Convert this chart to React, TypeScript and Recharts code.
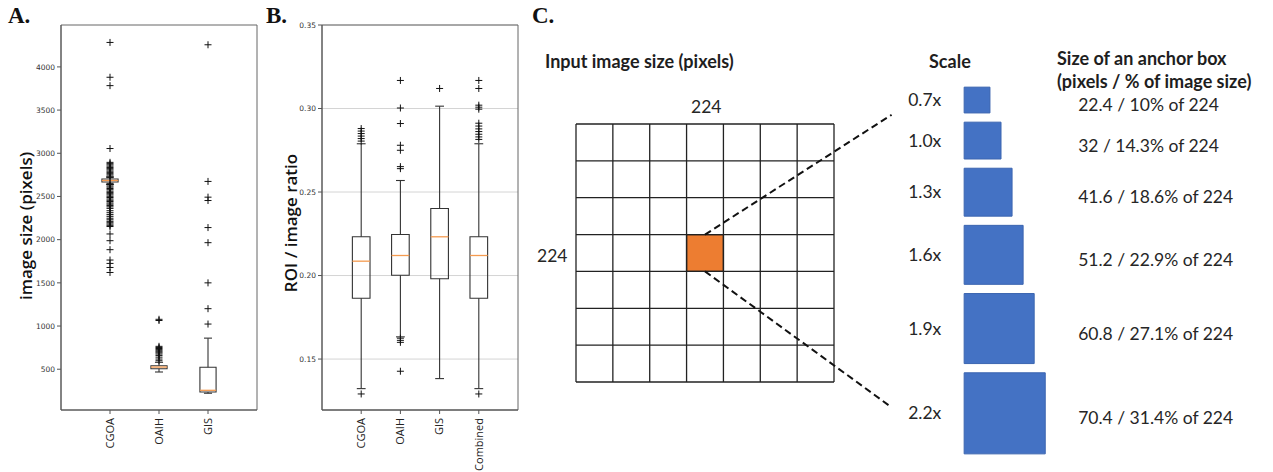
// Figure: A/B boxplots of image size and ROI ratio, C anchor-box diagram
import * as React from 'react';
import {
  ScatterChart,
  Scatter,
  XAxis,
  YAxis,
  ReferenceArea,
  ReferenceLine,
  CartesianGrid,
} from 'recharts';

// ---- panel A : image size (pixels)
const catsA = ['CGOA', 'OAIH', 'GIS'];
const q1A = [2668, 505, 236];
const medianA = [2685, 525, 256];
const q3A = [2702, 540, 523];
const whiskerLoA = [2640, 468, 222];
const whiskerHiA = [2725, 580, 860];
const outliersCGOA = [
  4283, 3880, 3783, 3055, 2895, 2880, 2866, 2851, 2836, 2822, 2808, 2793, 2779,
  2764, 2750, 2735, 2718, 2652, 2638, 2622, 2608, 2592, 2578, 2561, 2547, 2532,
  2518, 2502, 2488, 2471, 2456, 2442, 2425, 2411, 2396, 2380, 2362, 2335, 2312,
  2290, 2270, 2248, 2230, 2212, 2196, 2181, 2166, 2152, 2066, 1988, 1884, 1764,
  1725, 1678, 1620,
];
const outliersOAIH = [1078, 1064, 765, 752, 740, 727, 714, 702, 690, 676, 660, 640, 618, 598];
const outliersGIS = [4256, 2674, 2492, 2453, 2140, 1965, 1500, 1201, 1023];
const ticksA = [500, 1000, 1500, 2000, 2500, 3000, 3500, 4000];

// ---- panel B : ROI / image ratio
const catsB = ['CGOA', 'OAIH', 'GIS', 'Combined'];
const q1B = [0.1864, 0.2002, 0.1981, 0.1864];
const medianB = [0.2086, 0.212, 0.2232, 0.212];
const q3B = [0.2232, 0.2246, 0.2401, 0.2232];
const whiskerLoB = [0.1323, 0.1633, 0.1383, 0.1323];
const whiskerHiB = [0.2789, 0.2569, 0.3014, 0.2789];
const outliersB = [
  [0.288, 0.2865, 0.285, 0.2835, 0.282, 0.2805, 0.1291],
  [0.3168, 0.3003, 0.291, 0.278, 0.275, 0.2652, 0.264, 0.1625, 0.1612, 0.16, 0.1427],
  [0.312],
  [0.3168, 0.312, 0.302, 0.3008, 0.2996, 0.2912, 0.2895, 0.2878, 0.2862, 0.2846, 0.283, 0.2815, 0.1291],
];
const ticksB = [0.15, 0.2, 0.25, 0.3, 0.35];

// ---- panel C : anchor boxes
const gridTicks = [0, 32, 64, 96, 128, 160, 192, 224];
const inputSize = 224;
const anchorScales = ['0.7x', '1.0x', '1.3x', '1.6x', '1.9x', '2.2x'];
const anchorPixels = [22.4, 32, 41.6, 51.2, 60.8, 70.4];
const anchorTexts = [
  '22.4 / 10% of 224',
  '32 / 14.3% of 224',
  '41.6 / 18.6% of 224',
  '51.2 / 22.9% of 224',
  '60.8 / 27.1% of 224',
  '70.4 / 31.4% of 224',
];

const LINE = '#333';
const MEDIAN = '#f59b50';
const TICK_FONT = { fontSize: 7.5, fill: '#333', fontFamily: 'DejaVu Sans' };

function Plus(props: any) {
  const { cx, cy } = props;
  if (cx == null || cy == null) return null;
  return (
    <path
      d={`M${cx - 3.5},${cy}H${cx + 3.5}M${cx},${cy - 3.5}V${cy + 3.5}`}
      stroke="#111"
      strokeWidth={1}
      fill="none"
    />
  );
}

function RotTick(props: any) {
  const { x, y, payload, names } = props;
  return (
    <g transform={`translate(${x},${y + 2})`}>
      <text
        x={0}
        y={0}
        dy="0.35em"
        textAnchor="end"
        transform="rotate(-90)"
        fontSize={11}
        fontFamily="Open Sans"
        fill="#222"
      >
        {names[payload.value - 1]}
      </text>
    </g>
  );
}

// matplotlib-ish box: box, median, whiskers and caps
function boxParts(pos: number, w: number, q1: number, med: number, q3: number, lo: number, hi: number) {
  const c = w / 4;
  const k = `b${pos}`;
  return [
    <ReferenceArea key={k + 'box'} x1={pos - w / 2} x2={pos + w / 2} y1={q1} y2={q3} fill="none" fillOpacity={0} stroke={LINE} strokeWidth={1.1} />,
    <ReferenceLine key={k + 'wl'} segment={[{ x: pos, y: lo }, { x: pos, y: q1 }]} stroke={LINE} strokeWidth={1.1} />,
    <ReferenceLine key={k + 'wh'} segment={[{ x: pos, y: q3 }, { x: pos, y: hi }]} stroke={LINE} strokeWidth={1.1} />,
    <ReferenceLine key={k + 'cl'} segment={[{ x: pos - c, y: lo }, { x: pos + c, y: lo }]} stroke={LINE} strokeWidth={1.1} />,
    <ReferenceLine key={k + 'ch'} segment={[{ x: pos - c, y: hi }, { x: pos + c, y: hi }]} stroke={LINE} strokeWidth={1.1} />,
    <ReferenceLine key={k + 'md'} segment={[{ x: pos - w / 2, y: med }, { x: pos + w / 2, y: med }]} stroke={MEDIAN} strokeWidth={1.3} />,
  ];
}

function PanelA() {
  const yDom = [28, 4485];
  const outs = [outliersCGOA, outliersOAIH, outliersGIS];
  return (
    <ScatterChart width={270} height={472} margin={{ top: 25, right: 13, left: 21, bottom: 2 }}>
      <XAxis
        type="number"
        dataKey="x"
        domain={[0, 4]}
        ticks={[1, 2, 3]}
        interval={0}
        allowDataOverflow
        height={60}
        tickSize={4}
        stroke="#555"
        tick={<RotTick names={catsA} />}
      />
      <YAxis
        type="number"
        dataKey="y"
        domain={yDom}
        ticks={ticksA}
        interval={0}
        allowDataOverflow
        width={40}
        tickSize={4}
        stroke="#555"
        tick={TICK_FONT}
      />
      <ReferenceArea x1={0} x2={4} y1={yDom[0]} y2={yDom[1]} fill="none" fillOpacity={0} stroke="#666" />
      {catsA.map((_, i) => boxParts(i + 1, 0.33, q1A[i], medianA[i], q3A[i], whiskerLoA[i], whiskerHiA[i]))}
      {outs.map((arr, i) => (
        <Scatter
          key={`oa${i}`}
          data={arr.map((v) => ({ x: i + 1, y: v }))}
          shape={<Plus />}
          isAnimationActive={false}
        />
      ))}
    </ScatterChart>
  );
}

function PanelB() {
  const yDom = [0.1195, 0.35];
  return (
    <ScatterChart width={275} height={472} margin={{ top: 25, right: 12, left: 27, bottom: 2 }}>
      <CartesianGrid vertical={false} stroke="#d4d4d4" />
      <XAxis
        type="number"
        dataKey="x"
        domain={[0, 5]}
        ticks={[1, 2, 3, 4]}
        interval={0}
        allowDataOverflow
        height={60}
        tickSize={4}
        stroke="#555"
        tick={<RotTick names={catsB} />}
      />
      <YAxis
        type="number"
        dataKey="y"
        domain={yDom}
        ticks={ticksB}
        interval={0}
        allowDataOverflow
        width={40}
        tickSize={4}
        stroke="#555"
        tick={TICK_FONT}
        tickFormatter={(v: number) => v.toFixed(2)}
      />
      <ReferenceArea x1={0} x2={5} y1={yDom[0]} y2={yDom[1]} fill="none" fillOpacity={0} stroke="#666" />
      {catsB.map((_, i) => boxParts(i + 1, 0.45, q1B[i], medianB[i], q3B[i], whiskerLoB[i], whiskerHiB[i]))}
      {outliersB.map((arr, i) => (
        <Scatter
          key={`ob${i}`}
          data={arr.map((v) => ({ x: i + 1, y: v }))}
          shape={<Plus />}
          isAnimationActive={false}
        />
      ))}
    </ScatterChart>
  );
}

function AnchorLabel(props: any) {
  const { viewBox, scale, text } = props;
  if (!viewBox) return null;
  const { x, y, height } = viewBox;
  const cy = y + height / 2;
  return (
    <g fontFamily="Lato" fontSize={17.5} fill="#262626">
      <text x={x - 56} y={cy} dy="0.35em" textAnchor="start">
        {scale}
      </text>
      <text x={x + 114} y={cy + 5} dy="0.35em" textAnchor="start">
        {text}
      </text>
    </g>
  );
}

function PanelC() {
  // anchor boxes are stacked in image-pixel units, 8 units apart
  const boxLeft = 337;
  const tops: number[] = [];
  let t = -32;
  anchorPixels.forEach((p) => {
    tops.push(t);
    t += p + 8;
  });
  const mid = inputSize / 2;
  const cell = gridTicks[1];
  return (
    <ScatterChart width={743} height={472} margin={{ top: 124, right: 439, left: 46, bottom: 90 }}>
      <XAxis type="number" dataKey="x" domain={[0, inputSize]} hide allowDataOverflow />
      <YAxis type="number" dataKey="y" domain={[0, inputSize]} hide reversed allowDataOverflow />
      <ReferenceArea
        x1={mid - cell / 2}
        x2={mid + cell / 2}
        y1={mid - cell / 2}
        y2={mid + cell / 2}
        fill="#ed7d31"
        fillOpacity={1}
        stroke="#222"
        strokeWidth={1.3}
      />
      {gridTicks.map((v) => (
        <ReferenceLine key={`gx${v}`} x={v} stroke="#222" strokeWidth={1.3} />
      ))}
      {gridTicks.map((v) => (
        <ReferenceLine key={`gy${v}`} y={v} stroke="#222" strokeWidth={1.3} />
      ))}
      <ReferenceLine
        segment={[{ x: mid, y: mid - cell / 2 }, { x: 274, y: -8 }]}
        stroke="#111"
        strokeWidth={2}
        strokeDasharray="7 4"
        ifOverflow="visible"
      />
      <ReferenceLine
        segment={[{ x: mid, y: mid + cell / 2 }, { x: 274, y: 246 }]}
        stroke="#111"
        strokeWidth={2}
        strokeDasharray="7 4"
        ifOverflow="visible"
      />
      {anchorPixels.map((p, i) => (
        <ReferenceArea
          key={`anc${i}`}
          x1={boxLeft}
          x2={boxLeft + p}
          y1={tops[i]}
          y2={tops[i] + p}
          fill="#4472c4"
          fillOpacity={1}
          stroke="#3b65b0"
          ifOverflow="visible"
          label={<AnchorLabel scale={anchorScales[i]} text={anchorTexts[i]} />}
        />
      ))}
    </ScatterChart>
  );
}

const abs = (left: number, top: number): React.CSSProperties => ({
  position: 'absolute',
  left,
  top,
  whiteSpace: 'nowrap',
});

const panelLetter: React.CSSProperties = {
  fontFamily: 'Liberation Serif',
  fontWeight: 'bold',
  fontSize: 23,
  color: '#111',
  lineHeight: '23px',
};

const axisTitle: React.CSSProperties = {
  fontFamily: 'Open Sans',
  fontSize: 17,
  fontWeight: 600,
  color: '#111',
  transform: 'translate(-50%, -50%) rotate(-90deg)',
};

const calibri: React.CSSProperties = {
  fontFamily: 'Lato',
  fontSize: 17.5,
  color: '#262626',
  lineHeight: '23px',
};

const calibriBold: React.CSSProperties = {
  ...calibri,
  fontSize: 18,
  fontWeight: 'bold',
  color: '#1e1e1e',
};

export default function App() {
  return (
    <div style={{ position: 'absolute', left: 0, top: 0, width: 1273, height: 472, background: '#fff', overflow: 'hidden' }}>
      <div style={abs(0, 0)}>
        <PanelA />
      </div>
      <div style={abs(255, 0)}>
        <PanelB />
      </div>
      <div style={abs(530, 0)}>
        <PanelC />
      </div>

      <div style={{ ...abs(8, 4), ...panelLetter }}>A.</div>
      <div style={{ ...abs(266, 4), ...panelLetter }}>B.</div>
      <div style={{ ...abs(532, 4), ...panelLetter }}>C.</div>

      <div style={{ ...abs(25, 226), ...axisTitle }}>image size (pixels)</div>
      <div style={{ ...abs(290, 223), ...axisTitle }}>ROI / image ratio</div>

      <div style={{ ...abs(545, 50), ...calibriBold }}>Input image size (pixels)</div>
      <div style={{ ...abs(691, 95), ...calibri }}>224</div>
      <div style={{ ...abs(537, 244), ...calibri }}>224</div>
      <div style={{ ...abs(929, 50), ...calibriBold }}>Scale</div>
      <div style={{ ...abs(1057, 47), ...calibriBold }}>
        Size of an anchor box
        <br />
        (pixels / % of image size)
      </div>
    </div>
  );
}
